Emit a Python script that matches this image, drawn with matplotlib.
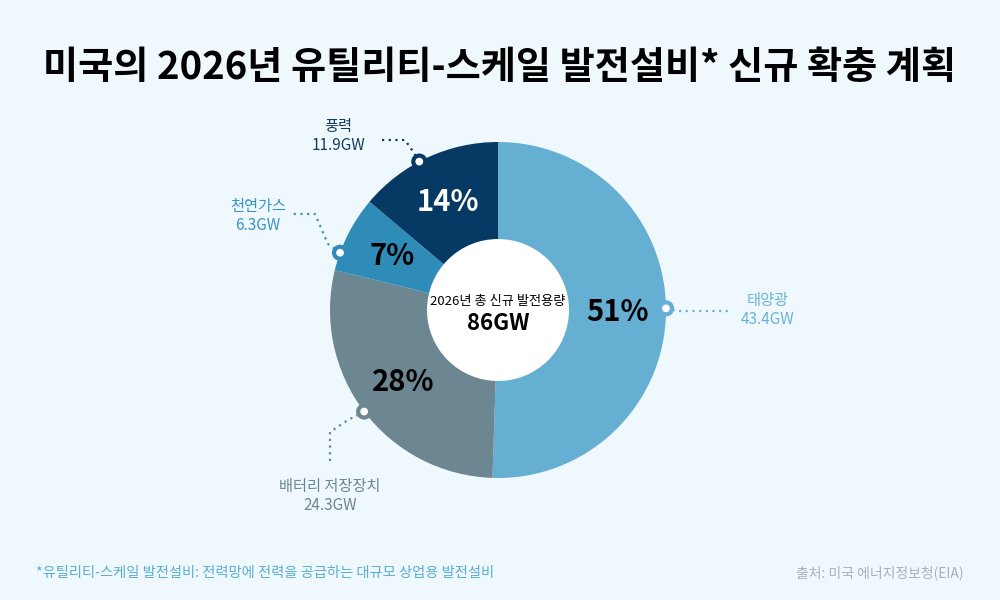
import numpy as np
import matplotlib.pyplot as plt
from matplotlib.patches import Circle

plt.rcParams['font.family'] = ['Noto Sans CJK KR', 'DejaVu Sans']

# Data
sources = ['태양광', '배터리 저장장치', '천연가스', '풍력']
capacity_gw = [43.4, 24.3, 6.3, 11.9]
total_gw = 86

title = '미국의 2026년 유틸리티-스케일 발전설비* 신규 확충 계획'
center_label = '2026년 총 신규 발전용량'
footnote = '*유틸리티-스케일 발전설비: 전력망에 전력을 공급하는 대규모 상업용 발전설비'
source_note = '출처: 미국 에너지정보청(EIA)'

# Styles
wedge_colors = ['#65afd2', '#6d8792', '#2f8cb9', '#063a64']
label_colors = ['#6ab4d9', '#6b8792', '#3b93c3', '#16395e']
pct_colors = ['black', 'black', 'black', 'white']
bg = '#eff8fd'

fig = plt.figure(figsize=(10, 6), dpi=100)
fig.patch.set_facecolor(bg)
ax = fig.add_axes([0, 0, 1, 1])

cx, cy, R = 498, 290, 168
wedges, _, pcts = ax.pie(capacity_gw, colors=wedge_colors, startangle=90,
                         counterclock=False, center=(cx, cy), radius=R,
                         autopct='%.0f%%', pctdistance=0.71,
                         wedgeprops=dict(linewidth=0),
                         textprops=dict(fontsize=21, fontweight='black'))
ax.set_xlim(0, 1000)
ax.set_ylim(0, 600)
ax.set_aspect('equal')
ax.axis('off')
for t, c in zip(pcts, pct_colors):
    t.set_color(c)

# inner hole
ax.add_patch(Circle((cx, cy), 71, facecolor='white', edgecolor='none', zorder=3))
ax.text(cx, cy + 8, center_label, ha='center', va='center', fontsize=9.5, zorder=4)
ax.text(cx, cy - 14, f'{total_gw}GW', ha='center', va='center', fontsize=16,
        fontweight='black', zorder=4)

# leader lines: angle offset on the wedge, path after the marker, label position
angle_offsets = [1.5, 0, 7, 3]
leader_paths = [
    [(678, 289), (728, 289)],
    [(348, 180), (330, 168), (330, 135)],
    [(328, 356), (315, 386), (292, 386)],
    [(412, 450), (405, 460), (380, 460)],
]
text_pos = [(768, 290), (330, 103), (258, 383), (338, 463)]

for i, w in enumerate(wedges):
    ang = np.deg2rad((w.theta1 + w.theta2) / 2 + angle_offsets[i])
    mx, my = cx + R * np.cos(ang), cy + R * np.sin(ang)
    xs = [mx] + [p[0] for p in leader_paths[i]]
    ys = [my] + [p[1] for p in leader_paths[i]]
    ax.plot(xs, ys, linestyle=(0, (1, 2)), color=label_colors[i], lw=1.6, zorder=2)
    ax.add_patch(Circle((mx, my), 6, facecolor='white', edgecolor=wedge_colors[i],
                        lw=3, zorder=5))
    tx, ty = text_pos[i]
    ax.text(tx, ty + 10, sources[i], ha='center', va='center', fontsize=11,
            color=label_colors[i])
    ax.text(tx, ty - 9, f'{capacity_gw[i]}GW', ha='center', va='center', fontsize=11,
            color=label_colors[i])

ax.text(500, 532, title, ha='center', va='center', fontsize=27.5, fontweight='black',
        color='black')
ax.text(36, 27, footnote, ha='left', va='center', fontsize=10.3, color='#5aaed6')
ax.text(964, 27, source_note, ha='right', va='center', fontsize=10, color='#a9b1b6')

fig.savefig('out.png', dpi=100, facecolor=bg)
